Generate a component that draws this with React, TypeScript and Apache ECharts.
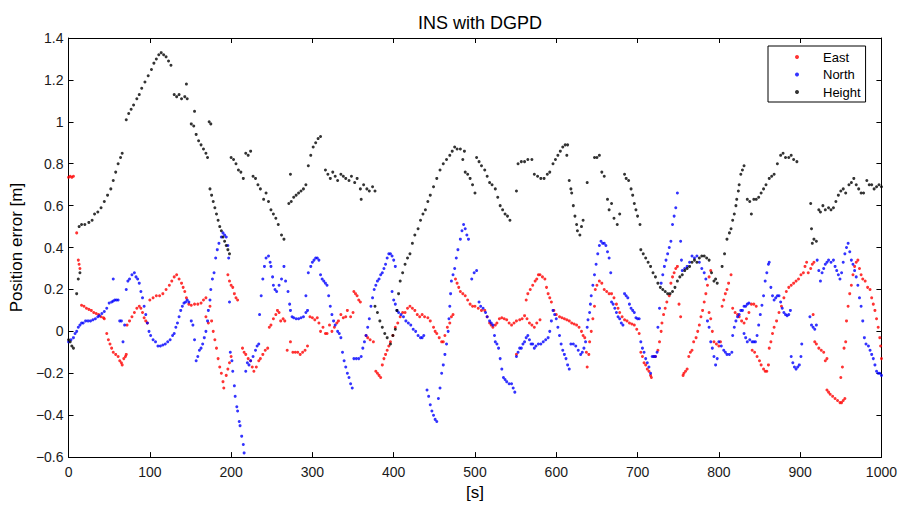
import React, { useEffect, useRef } from "react";
import * as echarts from "echarts";

const FONT = "'Liberation Sans', Arial, Helvetica, sans-serif";

const xTicks = { min: 0, max: 1000, step: 100 };
const yTicks = { min: -0.6, max: 1.4, step: 0.2 };

const seriesNames = ["East", "North", "Height"];
const seriesColors = ["#ff0000", "#0000ff", "#000000"];

const eastData: number[][] = [
  [0,0.735],[2,0.74],[4,0.735],[6,0.74],
  [10,0.47],[12,0.34],[13,0.32],[14,0.30],
  [16,0.125],[19,0.12],[22,0.11],[25,0.105],[28,0.10],[31,0.09],[34,0.085],[37,0.08],[40,0.07],[43,0.065],[44,0.06],
  [47,-0.01],[49,-0.04],[51,-0.06],[53,-0.08],[55,-0.10],[58,-0.11],[61,-0.12],[63,-0.14],[65,-0.15],[66,-0.16],[68,-0.13],[70,-0.12],[71,-0.11],
  [72,0.03],[75,0.05],[78,0.07],[81,0.09],[84,0.11],[87,0.12],[89,0.11],[91,0.09],[93,0.065],[95,0.05],[97,0.04],
  [100,0.15],[104,0.16],[108,0.17],[112,0.17],[116,0.18],[120,0.20],[124,0.22],[127,0.24],[130,0.26],[133,0.27],[136,0.25],[139,0.23],[141,0.21],[143,0.19],[145,0.16],
  [148,0.13],[151,0.125],[155,0.13],[159,0.13],[163,0.135],[166,0.15],[169,0.16],[169,0.07],[172,0.04],
  [174,0.12],[176,0.05],[178,0.0],[180,-0.04],[182,-0.08],[184,-0.13],[186,-0.17],[188,-0.20],[190,-0.24],[191,-0.27],
  [194,-0.21],[196,-0.18],[198,-0.15],[200,-0.12],
  [196,0.27],[198,0.24],[200,0.22],[202,0.21],[204,0.18],[206,0.16],[208,0.15],
  [214,-0.08],[216,-0.10],[218,-0.11],[221,-0.13],[224,-0.14],[226,-0.17],[228,-0.19],[231,-0.17],[234,-0.14],[236,-0.13],[239,-0.11],[242,-0.09],[245,-0.08],
  [247,0.02],[249,0.03],[252,0.06],[255,0.08],[257,0.10],[259,0.09],[261,0.05],[264,0.06],[266,0.05],
  [269,-0.09],[273,-0.05],[276,-0.10],[279,-0.10],[282,-0.10],[285,-0.11],[288,-0.10],[291,-0.09],[294,-0.07],
  [297,0.07],[300,0.065],[303,0.055],[306,0.065],[308,0.04],[310,0.0],[313,0.02],[316,-0.01],[318,-0.01],[321,0.03],[324,0.0],[327,0.02],[330,0.04],[332,0.05],[335,0.08],[338,0.065],[341,0.07],[343,0.10],[347,0.07],[350,0.09],[351,0.19],[353,0.18],[355,0.17],[357,0.15],[359,0.14],
  [366,-0.02],[368,-0.03],[371,-0.04],[375,-0.05],
  [378,-0.19],[380,-0.20],[382,-0.21],[384,-0.22],[386,-0.16],[388,-0.13],[390,-0.11],[392,-0.09],[394,-0.07],[396,-0.05],[399,-0.02],[402,0.02],[405,0.04],[408,0.07],[411,0.09],[414,0.09],[417,0.11],[420,0.12],[423,0.11],[426,0.10],[429,0.08],[432,0.07],[435,0.08],[438,0.07],[442,0.065],[445,0.05],[449,0.02],[451,0.0],[453,-0.01],[456,-0.03],[459,-0.05],[461,-0.05],[463,-0.02],[466,0.02],[469,0.04],[471,0.07],[473,0.08],
  [476,0.25],[478,0.23],[480,0.21],[482,0.19],[485,0.18],[488,0.17],[491,0.15],[494,0.13],[497,0.12],[500,0.12],[504,0.11],[508,0.10],[512,0.10],[515,0.07],[518,0.04],[520,0.03],[522,0.02],[525,0.03],[527,0.04],[530,0.06],[533,0.065],[536,0.06],[539,0.055],[542,0.04],[545,0.03],[548,0.04],[551,0.05],[555,0.055],[558,0.06],[561,0.075],[564,0.06],[567,0.04],[570,0.03],[573,0.02],[576,0.04],[580,0.055],
  [551,-0.11],
  [563,0.15],[565,0.18],[568,0.20],[571,0.22],[574,0.24],[576,0.25],[578,0.27],[580,0.27],[583,0.26],[586,0.25],[588,0.21],[590,0.18],[592,0.16],[594,0.14],
  [597,0.10],[600,0.08],[604,0.07],[607,0.065],[610,0.06],[613,0.055],[616,0.05],[619,0.04],[622,0.035],[625,0.03],[628,0.02],[631,0.0],[633,-0.02],[635,-0.03],[637,-0.10],[638,-0.17],
  [640,-0.11],[641,-0.05],[643,0.0],[645,0.06],[647,0.12],[648,0.20],[650,0.22],[653,0.24],[656,0.23],[659,0.20],[662,0.19],[665,0.18],[668,0.18],[671,0.16],[674,0.13],[676,0.11],[678,0.09],[681,0.07],[684,0.055],[687,0.05],[690,0.04],[693,0.035],[696,0.03],[699,0.01],[702,-0.01],[704,-0.10],[706,-0.12],[708,-0.15],[710,-0.16],[712,-0.18],[714,-0.19],[716,-0.21],[717,-0.22],
  [720,-0.12],[722,-0.12],[725,-0.09],[727,-0.05],[729,0.0],[730,0.04],[732,0.08],[734,0.11],[736,0.14],[739,0.17],[741,0.23],[743,0.26],[745,0.28],[747,0.30],[749,0.31],
  [751,0.13],[753,0.07],
  [756,-0.21],[757,-0.20],[759,-0.19],[761,-0.18],[763,-0.12],[765,-0.10],[767,-0.09],[769,-0.05],[772,-0.03],[774,0.0],[776,0.03],[778,0.07],[780,0.10],[782,0.14],[784,0.18],[786,0.22],[788,0.26],[790,0.29],
  [788,0.09],[790,0.06],[792,0.0],[794,-0.05],[797,-0.06],[800,-0.07],[802,-0.05],
  [804,0.12],[806,0.15],[808,0.18],[810,0.20],[812,0.23],[815,0.27],
  [817,0.11],[820,0.09],[823,0.08],[825,0.07],[828,0.05],[831,0.04],[834,0.06],[837,0.09],[840,0.13],[843,0.13],[846,0.12],
  [841,-0.09],[844,-0.10],[847,-0.12],[850,-0.14],[852,-0.16],[855,-0.18],[857,-0.19],[859,-0.19],[861,-0.16],[862,-0.08],[864,-0.05],[866,-0.01],[868,0.02],[871,0.05],[874,0.09],[877,0.12],[880,0.16],[883,0.19],[886,0.21],[889,0.22],[892,0.23],[895,0.24],[898,0.25],[901,0.27],[904,0.28],[906,0.31],[908,0.33],[910,0.28],[913,0.30],[915,0.32],[917,0.33],
  [916,0.08],[918,-0.05],[920,-0.06],[923,-0.08],[926,-0.09],[929,-0.10],[931,-0.14],[933,-0.13],
  [933,-0.28],[935,-0.29],[937,-0.30],[940,-0.31],[943,-0.32],[946,-0.33],[949,-0.34],[951,-0.34],[953,-0.33],[955,-0.32],
  [950,-0.22],[952,-0.17],[954,-0.08],[956,-0.05],
  [957,0.05],[959,0.12],[961,0.18],[963,0.22],[965,0.27],[967,0.31],[969,0.33],[971,0.34],[973,0.30],[975,0.27],[977,0.25],[980,0.24],[983,0.21],[986,0.20],[988,0.16],[990,0.13],[992,0.10],[994,0.06],[996,0.02],[998,-0.03],[999,-0.07],[1000,-0.13],
];

const northData: number[][] = [
  [0,-0.05],[3,-0.04],[6,-0.03],[8,-0.01],[10,0.0],[12,0.02],[14,0.03],[16,0.04],[18,0.04],[21,0.05],[24,0.05],[27,0.05],[30,0.055],[33,0.06],[36,0.07],[38,0.075],[41,0.085],[44,0.095],[47,0.11],[50,0.135],[53,0.14],[55,0.145],[57,0.15],[59,0.15],[55,0.25],
  [61,0.15],[63,0.05],[65,0.05],[67,-0.05],[69,0.03],[71,0.2],[73,0.24],[75,0.25],[78,0.27],[81,0.28],[83,0.26],[85,0.25],[87,0.23],[89,0.19],[91,0.16],[93,0.12],[95,0.08],[97,0.04],[99,0.0],[101,-0.02],[104,-0.04],[107,-0.05],[110,-0.07],[113,-0.07],[116,-0.065],[119,-0.06],[122,-0.05],[125,-0.04],[128,-0.02],[130,-0.01],[132,0.02],[134,0.04],[136,0.07],[138,0.10],[140,0.12],[142,0.135],[144,0.14],[146,0.15],[148,0.14],
  [151,0.05],[153,0.03],[155,-0.04],[157,-0.14],[159,-0.12],[161,-0.09],[163,-0.08],[165,-0.06],[167,-0.03],[169,0.0],[171,0.05],[172,0.1],[174,0.15],[175,0.20],[177,0.25],[179,0.28],[181,0.35],[183,0.39],[185,0.42],[188,0.45],[190,0.47],[192,0.46],[194,0.45],[196,0.41],[197,0.35],[198,0.14],
  [199,-0.1],[201,-0.14],[202,-0.19],[204,-0.26],[205,-0.31],[207,-0.36],[208,-0.38],[210,-0.43],[211,-0.45],[213,-0.50],[215,-0.54],[216,-0.58],
  [218,-0.19],[220,-0.15],[222,-0.16],[224,-0.14],[227,-0.12],[230,-0.09],[232,-0.07],[234,-0.06],
  [235,0.08],[237,0.17],[239,0.25],[241,0.31],[243,0.35],[246,0.36],[248,0.33],[249,0.31],[251,0.26],[252,0.22],[254,0.20],[256,0.19],[259,0.22],[262,0.25],[265,0.31],[267,0.24],[270,0.19],[272,0.13],[273,0.10],[275,0.07],[277,0.065],[280,0.06],[283,0.06],[286,0.065],[289,0.07],[292,0.09],[294,0.10],[292,0.17],[295,0.28],[298,0.31],[300,0.33],[302,0.34],[304,0.35],[306,0.35],[308,0.34],[310,0.27],[312,0.25],[314,0.24],[316,0.23],[318,0.22],[320,0.17],[322,0.12],[324,0.08],[326,0.05],[328,0.03],[331,0.0],[333,-0.01],[335,-0.03],[337,-0.10],[339,-0.14],[341,-0.17],[343,-0.20],[345,-0.22],[347,-0.25],[349,-0.27],
  [351,-0.13],[354,-0.13],[357,-0.13],[360,-0.12],[362,-0.08],[364,-0.05],[366,-0.02],[368,0.02],[370,0.06],[372,0.12],[374,0.16],[376,0.20],[378,0.22],[380,0.24],[382,0.25],[384,0.27],[386,0.28],[388,0.30],[390,0.32],[392,0.35],[394,0.37],[396,0.37],[398,0.36],[400,0.34],[402,0.31],
  [398,0.19],[400,0.15],[402,0.13],[404,0.10],[406,0.09],[409,0.08],[412,0.07],[415,0.05],[418,0.04],[421,0.03],[424,0.01],[427,0.0],[430,-0.02],[433,-0.03],[435,-0.03],[437,-0.02],
  [441,-0.28],[443,-0.31],[445,-0.35],[447,-0.38],[449,-0.40],[451,-0.42],[453,-0.43],[455,-0.32],[457,-0.27],[459,-0.20],[461,-0.16],[463,-0.11],[465,-0.06],[467,0.0],[468,0.06],[469,0.12],[470,0.18],[471,0.24],[473,0.27],[475,0.30],[477,0.35],[479,0.39],[482,0.44],[484,0.48],[486,0.51],[488,0.49],[490,0.46],[492,0.44],
  [496,0.25],[499,0.28],[502,0.29],
  [505,0.14],[507,0.12],[510,0.11],[513,0.09],[515,0.07],[518,0.05],[520,0.04],[522,0.03],[524,-0.02],[525,-0.05],[527,-0.06],[529,-0.08],[531,-0.13],[533,-0.18],[535,-0.22],[537,-0.23],[539,-0.24],[542,-0.25],[545,-0.25],[547,-0.27],[549,-0.29],
  [551,-0.12],[553,-0.10],[555,-0.08],[557,-0.08],[559,-0.06],[561,-0.05],[563,-0.03],[565,-0.02],[567,-0.04],[569,-0.06],[571,-0.06],[573,-0.08],[575,-0.07],[578,-0.06],[581,-0.06],[584,-0.05],[587,-0.04],[590,-0.03],[592,0.0],[594,0.05],[596,0.10],[598,0.08],[600,0.06],[602,0.02],[604,-0.02],[606,-0.06],[608,-0.09],[610,-0.11],[612,-0.13],[614,-0.16],[616,-0.18],[618,-0.06],[621,-0.06],[624,-0.07],[627,-0.09],[630,-0.11],[632,-0.10],[634,-0.08],[636,-0.05],[638,0.02],[639,0.055],[641,0.09],[642,0.13],[643,0.17],[645,0.22],[647,0.27],[649,0.32],[651,0.37],[653,0.41],[655,0.43],[657,0.42],[659,0.42],[661,0.41],[663,0.38],[665,0.35],[667,0.28],[668,0.14],[670,0.13],[672,0.11],[674,0.09],[676,0.07],[678,0.06],[680,0.04],[682,0.03],[684,0.18],[686,0.17],[688,0.16],[690,0.13],[692,0.11],[694,0.10],[696,0.09],[698,0.065],[700,0.06],[702,0.06],
  [704,-0.05],[706,-0.08],[708,-0.10],[710,-0.13],[712,-0.15],[714,-0.17],[716,-0.20],[718,-0.12],[720,-0.12],[722,-0.12],[724,-0.10],[725,0.02],[727,0.11],[729,0.23],[731,0.27],[733,0.31],[735,0.34],[737,0.37],[739,0.40],[741,0.43],[743,0.51],[745,0.55],[747,0.59],[749,0.66],
  [753,0.43],[754,0.34],[755,0.29],[758,0.30],[761,0.31],[764,0.33],[767,0.36],[770,0.35],[773,0.36],[776,0.33],[779,0.30],[782,0.28],[784,0.25],[786,0.05],[788,0.02],[790,-0.05],[792,-0.08],[794,-0.12],[796,-0.16],[798,-0.13],[800,-0.05],[803,-0.07],[806,-0.09],[808,-0.10],[810,-0.11],[813,-0.11],[816,-0.10],
  [817,-0.02],[819,0.02],[821,0.05],[823,0.07],[825,0.08],[827,0.10],[829,0.10],[831,0.12],[833,0.12],[835,0.13],[837,0.135],
  [831,-0.01],[833,-0.03],[835,-0.05],[838,-0.04],[841,-0.05],[843,-0.05],[845,-0.05],[847,-0.02],
  [849,0.03],[851,0.08],[853,0.125],[855,0.17],[857,0.24],[859,0.28],[861,0.32],[862,0.33],[864,0.21],[866,0.17],[868,0.15],[870,0.16],[872,0.17],[874,0.17],[876,0.14],[878,0.11],[880,0.09],[882,0.08],[884,0.075],[886,0.08],[888,0.10],
  [889,-0.12],[891,-0.15],[893,-0.17],[895,-0.18],[897,-0.17],[899,-0.16],[901,-0.12],[902,-0.06],
  [912,0.07],[914,0.03],[916,0.02],[918,0.01],[920,0.03],[921,0.34],[923,0.29],[925,0.24],[927,0.28],[929,0.30],[931,0.32],[933,0.33],[935,0.34],[938,0.33],[941,0.34],[943,0.31],[945,0.29],[947,0.27],[949,0.25],[951,0.28],[953,0.33],[955,0.37],[957,0.40],[959,0.42],[961,0.38],[963,0.34],[965,0.32],[967,0.29],[969,0.26],[971,0.22],[973,0.16],[975,0.12],[977,0.05],[979,-0.03],[981,-0.06],[984,-0.07],[986,-0.09],[988,-0.11],[990,-0.13],[992,-0.16],[994,-0.19],[996,-0.20],[998,-0.20],[1000,-0.21],
];

const heightData: number[][] = [
  [0,-0.04],[2,-0.05],[4,-0.07],[6,-0.08],
  [10,0.18],[12,0.25],[14,0.28],
  [13,0.50],[16,0.51],[20,0.51],[25,0.52],[29,0.53],[32,0.56],[36,0.57],[40,0.59],[44,0.62],[48,0.65],[52,0.68],[55,0.72],[58,0.76],[61,0.80],[64,0.83],[66,0.85],
  [71,1.01],[74,1.04],[77,1.06],[80,1.08],[84,1.11],[87,1.13],[90,1.16],[94,1.19],[98,1.22],[102,1.25],[105,1.28],[108,1.30],[111,1.32],[114,1.33],[117,1.32],[120,1.31],[123,1.29],[126,1.27],
  [130,1.13],[133,1.12],[136,1.13],[139,1.11],[143,1.12],[146,1.11],[145,1.18],
  [151,0.99],[154,0.98],[155,1.05],[157,0.94],[160,0.91],[163,0.89],[166,0.87],[169,0.85],[171,0.83],[173,1.0],[175,0.99],
  [174,0.68],[176,0.65],[178,0.62],[180,0.59],[182,0.56],[184,0.53],[186,0.50],[188,0.48],[190,0.45],[192,0.43],[194,0.41],[196,0.39],[198,0.37],
  [200,0.83],[203,0.82],[206,0.80],[209,0.77],[212,0.76],[215,0.73],[218,0.85],[221,0.84],[224,0.86],
  [227,0.74],[230,0.73],[233,0.70],[236,0.68],[240,0.63],[243,0.66],[246,0.62],[249,0.58],[252,0.56],[255,0.54],[258,0.51],[262,0.46],[265,0.44],
  [271,0.61],[274,0.62],[277,0.64],[280,0.65],[283,0.66],[286,0.67],[289,0.68],[292,0.70],[273,0.75],
  [295,0.79],[298,0.84],[301,0.88],[304,0.90],[307,0.92],[310,0.93],
  [316,0.77],[319,0.75],[322,0.73],[325,0.76],[328,0.74],[331,0.72],[335,0.75],[338,0.74],[341,0.73],[345,0.72],[348,0.74],[352,0.71],[355,0.73],[359,0.68],[360,0.63],[363,0.70],[367,0.68],[370,0.67],[374,0.69],[377,0.67],
  [377,0.12],[380,0.09],[383,0.05],[386,0.02],[389,-0.01],[392,-0.03],[396,-0.06],[399,-0.02],[402,0.01],[404,0.1],[406,0.18],[408,0.24],[411,0.28],[414,0.32],[417,0.35],[420,0.37],[423,0.42],[426,0.46],[430,0.49],[433,0.53],[436,0.56],[439,0.58],[442,0.62],[445,0.65],[449,0.69],[453,0.73],[457,0.77],[461,0.80],[465,0.82],[469,0.84],[472,0.86],[475,0.88],[478,0.87],[482,0.87],[485,0.82],[487,0.86],
  [488,0.76],[491,0.75],[494,0.73],[497,0.70],[500,0.66],
  [502,0.83],[505,0.81],[508,0.79],[512,0.77],[515,0.74],[518,0.71],[521,0.70],[525,0.68],[528,0.64],[531,0.60],[534,0.58],[537,0.56],[540,0.55],[543,0.53],
  [551,0.67],[553,0.80],[557,0.81],[561,0.81],[565,0.82],[570,0.82],[573,0.75],[577,0.74],[581,0.73],[585,0.73],[589,0.75],[592,0.76],[596,0.80],[599,0.82],[602,0.84],[605,0.86],[608,0.88],[611,0.89],[614,0.89],[613,0.84],
  [616,0.72],[618,0.68],[619,0.66],[621,0.60],[623,0.55],[625,0.51],[626,0.48],[629,0.46],[631,0.50],[633,0.53],[638,0.71],
  [647,0.83],[650,0.83],[653,0.84],[656,0.76],[659,0.74],
  [663,0.63],[665,0.58],[668,0.61],[671,0.54],[675,0.51],[678,0.56],
  [684,0.75],[686,0.73],[689,0.72],[692,0.68],[694,0.65],[696,0.61],[698,0.58],[700,0.55],[703,0.51],
  [704,0.39],[707,0.37],[710,0.35],[713,0.33],[716,0.31],[719,0.28],[722,0.26],[725,0.23],[728,0.21],[731,0.20],[734,0.19],[737,0.18],[740,0.18],[743,0.19],[746,0.21],
  [749,0.24],[752,0.26],[755,0.27],[758,0.29],[761,0.30],[764,0.31],[767,0.33],[770,0.34],[773,0.33],[776,0.35],[779,0.36],[782,0.36],[785,0.35],[788,0.34],
  [791,0.28],[794,0.24],[796,0.25],[798,0.23],
  [804,0.31],[807,0.37],[810,0.44],[813,0.47],[815,0.49],[817,0.53],[819,0.56],[821,0.60],[822,0.63],[824,0.67],[825,0.70],[827,0.75],[829,0.77],[831,0.79],
  [835,0.63],[838,0.62],[840,0.56],[843,0.63],[846,0.63],[849,0.64],[852,0.66],[855,0.68],[858,0.70],[862,0.73],[865,0.74],[868,0.75],[872,0.80],[876,0.84],[879,0.85],[882,0.83],[886,0.83],[889,0.84],[892,0.82],[896,0.81],
  [913,0.61],[914,0.49],[915,0.42],[917,0.44],[920,0.43],[923,0.58],[925,0.57],[928,0.60],[931,0.58],[935,0.59],[938,0.58],[941,0.59],[944,0.62],[947,0.65],[950,0.67],[953,0.68],[956,0.66],[960,0.70],[963,0.71],[966,0.73],[969,0.70],[972,0.68],[975,0.66],[978,0.66],[982,0.72],[985,0.70],[988,0.70],[991,0.68],[994,0.69],[997,0.70],[1000,0.69],
];

const allData = [eastData, northData, heightData];

function fmtY(v: number): string {
  const r = Math.round(v * 10) / 10;
  if (r < 0) return "\u2212" + String(-r);
  return String(r);
}

function fmtX(v: number): string {
  return String(Math.round(v));
}

export default function App() {
  const ref = useRef<HTMLDivElement>(null);
  useEffect(() => {
    if (!ref.current) return;
    const chart = echarts.init(ref.current, undefined, { renderer: "svg" });
    const axisLine = { show: true, onZero: false, lineStyle: { color: "#000", width: 1 } };
    const axisTick = { show: true, inside: true, length: 5, lineStyle: { color: "#000", width: 1 } };
    const labelStyle = { color: "#1a1a1a", fontSize: 14, fontFamily: FONT };
    chart.setOption({
      animation: false,
      backgroundColor: "#fff",
      title: {
        text: "INS with DGPD",
        left: 475,
        textAlign: "center",
        top: 9,
        textStyle: { fontSize: 18, fontWeight: "normal", color: "#000", fontFamily: FONT },
      },
      legend: {
        orient: "vertical",
        left: 768,
        top: 46,
        padding: [4, 5, 3, 27],
        itemGap: 3.5,
        itemWidth: 4,
        itemHeight: 4,
        icon: "circle",
        borderColor: "#000",
        borderWidth: 1,
        backgroundColor: "#fff",
        data: seriesNames,
        textStyle: { fontSize: 13, lineHeight: 14, color: "#000", fontFamily: FONT, padding: [0, 0, 0, 19] },
      },
      grid: { left: 67, right: 17, top: 38, bottom: 45, containLabel: false },
      xAxis: [
        {
          type: "value",
          min: xTicks.min,
          max: xTicks.max,
          interval: xTicks.step,
          position: "bottom",
          name: "[s]",
          nameLocation: "middle",
          nameGap: 23,
          nameTextStyle: { fontSize: 17, color: "#000", fontFamily: FONT },
          axisLine,
          axisTick,
          splitLine: { show: false },
          axisLabel: { ...labelStyle, margin: 8, formatter: fmtX },
        },
        {
          type: "value",
          min: xTicks.min,
          max: xTicks.max,
          interval: xTicks.step,
          position: "top",
          axisLine,
          axisTick,
          splitLine: { show: false },
          axisLabel: { show: false },
        },
      ],
      yAxis: [
        {
          type: "value",
          min: yTicks.min,
          max: yTicks.max,
          interval: yTicks.step,
          position: "left",
          name: "Position error [m]",
          nameLocation: "middle",
          nameGap: 38,
          nameTextStyle: { fontSize: 17, color: "#000", fontFamily: FONT },
          axisLine,
          axisTick,
          splitLine: { show: false },
          axisLabel: { ...labelStyle, margin: 5, formatter: fmtY },
        },
        {
          type: "value",
          min: yTicks.min,
          max: yTicks.max,
          interval: yTicks.step,
          position: "right",
          axisLine,
          axisTick,
          splitLine: { show: false },
          axisLabel: { show: false },
        },
      ],
      series: seriesNames.map((name, i) => ({
        name,
        type: "scatter",
        xAxisIndex: 0,
        yAxisIndex: 0,
        symbol: "circle",
        symbolSize: 3,
        itemStyle: { color: seriesColors[i] },
        data: allData[i],
        silent: true,
      })),
    });
    return () => chart.dispose();
  }, []);
  return (
    <div
      ref={ref}
      style={{ position: "fixed", left: 0, top: 0, width: 900, height: 506, background: "#fff" }}
    />
  );
}
